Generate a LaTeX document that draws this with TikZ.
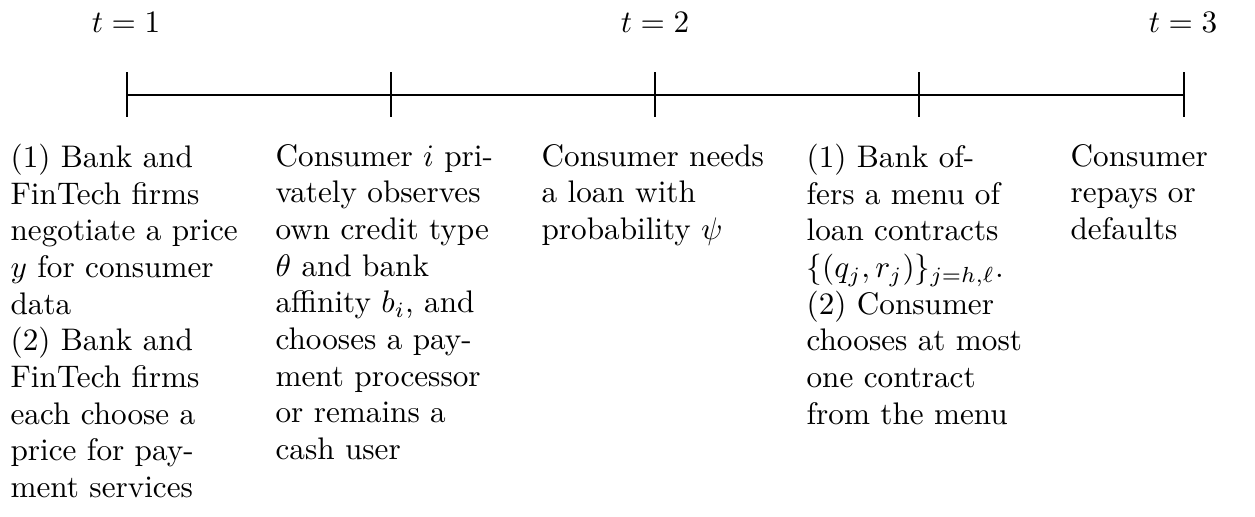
\documentclass[tikz,border=0pt]{standalone}
\newcommand{\descfont}{\fontsize{10}{11.75}\selectfont\lineskiplimit=-10pt\relax\lineskip=0pt\relax}
\begin{document}
\begin{tikzpicture}[x=0.32051pt,y=-0.32051pt,
  axis/.style={line width=0.65pt},
  tick/.style={line width=0.4pt},
  tlabel/.style={font=\fontsize{10}{12}\selectfont, inner sep=0pt},
  desc/.style={anchor=north west, inner sep=0pt, align=left, font=\descfont,
    execute at begin node={\rule{0pt}{7.5pt}}}]
\useasboundingbox (0,0) rectangle (1255,516);
\coordinate (p1) at (127,95);
\coordinate (p2) at (391,95);
\coordinate (p3) at (655,95);
\coordinate (p4) at (919,95);
\coordinate (p5) at (1184,95);
\draw[axis] (p1) -- (p5);
\foreach \p in {p1,p2,p3,p4,p5}{
  \draw[tick] ([yshift=23*0.32051pt]\p) -- ([yshift=-22*0.32051pt]\p);
}
\node[tlabel] (t1) at (126,22) {$t=1$};
\node[tlabel] (t2) at (655,22) {$t=2$};
\node[tlabel] (t3) at (1183,22) {$t=3$};
\node[desc] (d1) at (10,143.6) {(1) Bank and\\FinTech firms\\negotiate a price\\$y$ for consumer\\data\\(2) Bank and\\FinTech firms\\each choose a\\price for pay-\\ment services};
\node[desc] (d2) at (275,143.6) {Consumer $i$ pri-\\vately observes\\own credit type\\$\theta$ and bank\\affinity $b_i$, and\\chooses a pay-\\ment processor\\or remains a\\cash user};
\node[desc] (d3) at (541,143.6) {Consumer needs\\a loan with\\probability $\psi$};
\node[desc] (d4) at (806,143.6) {(1) Bank of-\\fers a menu of\\loan contracts\\$\{(q_j,r_j)\}_{j=h,\ell}$.\\(2) Consumer\\chooses at most\\one contract\\from the menu};
\node[desc] (d5) at (1070,143.6) {Consumer\\repays or\\defaults};
\end{tikzpicture}
\end{document}
